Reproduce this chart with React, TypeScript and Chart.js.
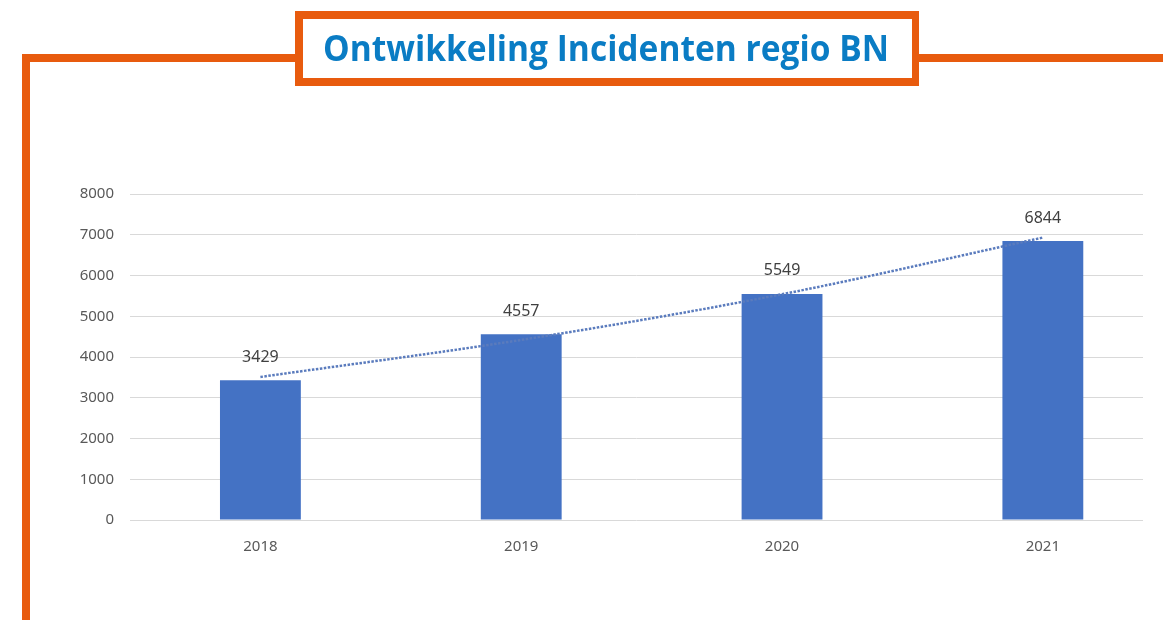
import React, { useEffect, useRef } from "react";
import { Chart, registerables } from "chart.js";

Chart.register(...registerables);

const titleText = "Ontwikkeling Incidenten regio BN";
const years = ["2018", "2019", "2020", "2021"];
const incidents = [3429, 4557, 5549, 6844];
const trendValues = [3510, 4420, 5540, 6930];
const yTicks = [0, 1000, 2000, 3000, 4000, 5000, 6000, 7000, 8000];

const ORANGE = "#e85b0e";
const TITLE_BLUE = "#0a7cc4";
const BAR_BLUE = "#4472c4";

const framePlugin = {
  id: "frame",
  beforeDraw(chart: any) {
    const ctx = chart.ctx;
    ctx.save();
    ctx.fillStyle = "#ffffff";
    ctx.fillRect(0, 0, chart.width, chart.height);
    ctx.restore();
  },
  afterDraw(chart: any) {
    const ctx = chart.ctx;
    ctx.save();
    ctx.fillStyle = ORANGE;
    ctx.fillRect(22, 54, chart.width - 22, 8);
    ctx.fillRect(22, 54, 8, chart.height - 54);
    ctx.fillRect(295, 11, 624, 75);
    ctx.fillStyle = "#ffffff";
    ctx.fillRect(303, 19, 609, 59);
    ctx.font = "bold 35px 'Open Sans'";
    ctx.fillStyle = TITLE_BLUE;
    ctx.textBaseline = "alphabetic";
    ctx.textAlign = "left";
    const w = ctx.measureText(titleText).width;
    const target = 566;
    const sx = target / w;
    ctx.translate(323, 61);
    ctx.scale(sx, 1);
    ctx.fillText(titleText, 0, 0);
    ctx.restore();
  },
};

const labelPlugin = {
  id: "barLabels",
  afterDatasetsDraw(chart: any) {
    const ctx = chart.ctx;
    const meta = chart.getDatasetMeta(0);
    ctx.save();
    ctx.font = "16px 'Noto Sans'";
    ctx.fillStyle = "#404040";
    ctx.textAlign = "center";
    ctx.textBaseline = "middle";
    meta.data.forEach((el: any, i: number) => {
      ctx.fillText(String(incidents[i]), el.x, el.y - 23);
    });
    ctx.restore();
  },
};

export default function App() {
  const ref = useRef<HTMLCanvasElement | null>(null);
  useEffect(() => {
    if (!ref.current) return;
    const chart = new Chart(ref.current, {
      data: {
        datasets: [
          {
            type: "bar",
            label: "Incidenten",
            data: incidents.map((v, i) => ({ x: i, y: v })),
            backgroundColor: BAR_BLUE,
            categoryPercentage: 1,
            barPercentage: 0.31,
            order: 2,
          },
          {
            type: "line",
            label: "Trend",
            data: trendValues.map((v, i) => ({ x: i, y: v })),
            borderColor: "#5a7bbd",
            borderWidth: 2.5,
            borderDash: [2.5, 1.5],
            pointRadius: 0,
            cubicInterpolationMode: "monotone",
            fill: false,
            order: 1,
          },
        ],
      } as any,
      options: {
        animation: false,
        responsive: false,
        maintainAspectRatio: false,
        layout: { padding: { left: 0, right: 20, top: 194, bottom: 0 } },
        plugins: {
          legend: { display: false },
          title: { display: false },
          tooltip: { enabled: false },
        },
        scales: {
          x: {
            type: "linear",
            min: -0.5,
            max: 3.384,
            offset: false,
            bounds: "ticks",
            grid: { display: false, offset: false },
            border: { display: false },
            afterBuildTicks: (scale: any) => {
              scale.ticks = years.map((_, i) => ({ value: i }));
            },
            afterFit: (scale: any) => {
              scale.height = 100;
            },
            ticks: {
              callback: (v: any) => years[v as number] ?? "",
              font: { family: "'Noto Sans'", size: 15 },
              color: "#595959",
              padding: 10,
              maxRotation: 0,
              autoSkip: false,
            },
          },
          y: {
            min: 0,
            max: 8000,
            afterBuildTicks: (scale: any) => {
              scale.ticks = yTicks.map((v) => ({ value: v }));
            },
            afterFit: (scale: any) => {
              scale.width = 130;
            },
            grid: { color: "#d9d9d9", lineWidth: 1, drawTicks: false },
            border: { display: false },
            ticks: {
              callback: (v: any) => String(v),
              font: { family: "'Noto Sans'", size: 15 },
              color: "#595959",
              padding: 16,
            },
          },
        },
      } as any,
      plugins: [framePlugin, labelPlugin],
    });
    return () => chart.destroy();
  }, []);
  return (
    <div style={{ position: "fixed", left: 0, top: 0, width: 1163, height: 620, background: "#fff" }}>
      <canvas ref={ref} width={1163} height={620} style={{ display: "block", width: 1163, height: 620 }} />
    </div>
  );
}
